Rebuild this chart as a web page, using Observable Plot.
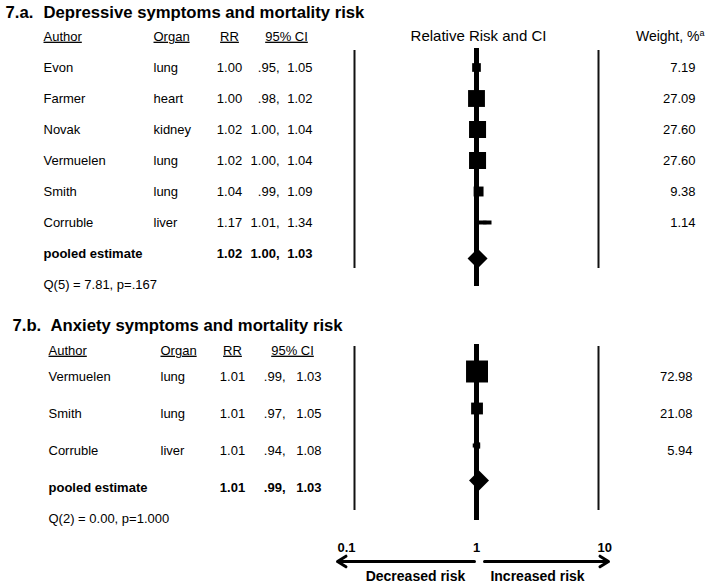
<!DOCTYPE html>
<html><head><meta charset="utf-8">
<script src="https://cdn.jsdelivr.net/npm/d3@7"></script>
<script src="https://cdn.jsdelivr.net/npm/@observablehq/plot@0.6"></script>
<style>
html,body{margin:0;padding:0;background:#fff;}
#chart svg{display:block;}
</style></head>
<body><div id="chart"></div>
<script>
// ---------- data ----------
const axisTicks = [0.1, 1, 10];
const headers = ["Author", "Organ", "RR", "95% CI"];
const forestHeader = "Relative Risk and CI";
const weightHeader = ["Weight, %", "a"];
const pooledLabel = "pooled estimate";

const titleA = ["7.a.", "Depressive symptoms and mortality risk"];
const authorsA = ["Evon", "Farmer", "Novak", "Vermuelen", "Smith", "Corruble"];
const organsA = ["lung", "heart", "kidney", "lung", "lung", "liver"];
const rrA = [1.00, 1.00, 1.02, 1.02, 1.04, 1.17];
const loA = [0.95, 0.98, 1.00, 1.00, 0.99, 1.01];
const hiA = [1.05, 1.02, 1.04, 1.04, 1.09, 1.34];
const weightA = [7.19, 27.09, 27.60, 27.60, 9.38, 1.14];
const pooledA = [1.02, 1.00, 1.03];
const statA = "Q(5) = 7.81, p=.167";

const titleB = ["7.b.", "Anxiety symptoms and mortality risk"];
const authorsB = ["Vermuelen", "Smith", "Corruble"];
const organsB = ["lung", "lung", "liver"];
const rrB = [1.01, 1.01, 1.01];
const loB = [0.99, 0.97, 0.94];
const hiB = [1.03, 1.05, 1.08];
const weightB = [72.98, 21.08, 5.94];
const pooledB = [1.01, 0.99, 1.03];
const statB = "Q(2) = 0.00, p=1.000";

const riskLabels = ["Decreased risk", "Increased risk"];

// ---------- helpers ----------
const FONT = "'Liberation Sans', Arial, Helvetica, sans-serif";
const X0 = 354;          // left edge of forest frame (px)
const col = px => px - X0;
const fmt = v => v.toFixed(2).replace(/^0\./, ".");
const T = (data, opts) => Plot.text(data, {fontSize: 13, fill: "#000", textAnchor: "start", lineAnchor: "middle", ...opts});

function tableMarks(rows, pooled, c) {
  const f = {frameAnchor: "left"};
  return [
    T(rows, {...f, y: "author", text: "author", dx: col(c.author)}),
    T(rows, {...f, y: "author", text: "organ", dx: col(c.organ)}),
    T(rows, {...f, y: "author", text: d => fmt(d.rr), dx: col(c.rr), textAnchor: "middle"}),
    T(rows, {...f, y: "author", text: d => fmt(d.lo) + ",", dx: col(c.lo), textAnchor: "end"}),
    T(rows, {...f, y: "author", text: d => fmt(d.hi), dx: col(c.hi), textAnchor: "end"}),
    T(rows, {...f, y: "author", text: d => d.weight.toFixed(2), dx: col(c.weight), textAnchor: "end"}),
    T([pooled], {...f, y: "author", text: "author", dx: col(c.author), fontWeight: "bold"}),
    T([pooled], {...f, y: "author", text: d => fmt(d.rr), dx: col(c.rr), textAnchor: "middle", fontWeight: "bold"}),
    T([pooled], {...f, y: "author", text: d => fmt(d.lo) + ",", dx: col(c.lo), textAnchor: "end", fontWeight: "bold"}),
    T([pooled], {...f, y: "author", text: d => fmt(d.hi), dx: col(c.hi), textAnchor: "end", fontWeight: "bold"})
  ];
}

function build(authors, organs, rr, lo, hi, weight) {
  return authors.map((a, i) => ({author: a, organ: organs[i], rr: rr[i], lo: lo[i], hi: hi[i], weight: weight[i]}));
}

// ---------- panel A ----------
const rowsA = build(authorsA, organsA, rrA, loA, hiA, weightA);
const pA = {author: pooledLabel, rr: pooledA[0], lo: pooledA[1], hi: pooledA[2]};
const colsA = {author: 43, organ: 153, rr: 229, lo: 279, hi: 312, weight: 695};
const hdrXA = [43, 153, 229, 286];
const hdrAnchor = ["start", "start", "middle", "middle"];
const yA = ["header", ...authorsA, pooledLabel, "stat"];

const plotA = Plot.plot({
  width: 708, height: 300,
  marginLeft: X0, marginRight: 110, marginTop: 32, marginBottom: 13,
  x: {type: "log", domain: [axisTicks[0], axisTicks[2]], axis: null},
  y: {type: "point", domain: yA, padding: 0, axis: null},
  r: {range: [0, 9.6]},
  style: {fontFamily: FONT, background: "#fff", overflow: "visible"},
  marks: [
    Plot.ruleX([axisTicks[0], axisTicks[2]], {y1: () => authorsA[0], y2: () => pooledLabel, insetTop: -17, insetBottom: -15, strokeWidth: 2, stroke: "#111"}),
    Plot.ruleX([axisTicks[1]], {y1: () => authorsA[0], y2: () => pooledLabel, insetTop: -19, insetBottom: -33, strokeWidth: 5, stroke: "#000"}),
    Plot.ruleY(rowsA, {y: "author", x1: "lo", x2: "hi", strokeWidth: 4, stroke: "#000"}),
    Plot.dot(rowsA, {x: "rr", y: "author", r: "weight", symbol: "square", fill: "#000", stroke: "none"}),
    Plot.dot([pA], {x: "rr", y: "author", r: 9, symbol: "diamond2", fill: "#000", stroke: "none", dy: 5}),
    T([titleA[0]], {frameAnchor: "top-left", text: d => d, dx: col(5), dy: -20, fontWeight: "bold", fontSize: 16.7}),
    T([titleA[1]], {frameAnchor: "top-left", text: d => d, dx: col(43), dy: -20, fontWeight: "bold", fontSize: 16.7}),
    ...headers.map((h, i) => T([h], {frameAnchor: "left", y: () => "header", text: d => d, dx: col(hdrXA[i]), textAnchor: hdrAnchor[i]})),
    T([forestHeader], {x: () => axisTicks[1], y: () => "header", text: d => d, textAnchor: "middle", fontSize: 15, dx: 2}),
    T([weightHeader[0]], {frameAnchor: "left", y: () => "header", text: d => d, dx: col(704), textAnchor: "end", fontSize: 14}),
    ...tableMarks(rowsA, pA, colsA),
    T([statA], {frameAnchor: "left", y: () => "stat", text: d => d, dx: col(43)})
  ]
});

// ---------- panel B ----------
const rowsB = build(authorsB, organsB, rrB, loB, hiB, weightB);
const pB = {author: pooledLabel, rr: pooledB[0], lo: pooledB[1], hi: pooledB[2]};
const colsB = {author: 48, organ: 160, rr: 232, lo: 285, hi: 321, weight: 692};
const hdrXB = [48, 160, 232, 292];
const yB = [...authorsB, pooledLabel];
const arrows = [{start: axisTicks[1], end: axisTicks[0], label: riskLabels[0]}, {start: axisTicks[1], end: axisTicks[2], label: riskLabels[1]}];

const plotB = Plot.plot({
  width: 708, height: 286,
  marginLeft: X0, marginRight: 110, marginTop: 75, marginBottom: 98,
  x: {type: "log", domain: [axisTicks[0], axisTicks[2]], axis: null},
  y: {type: "point", domain: yB, padding: 0, axis: null},
  r: {range: [0, 12.4]},
  style: {fontFamily: FONT, background: "#fff", overflow: "visible"},
  marks: [
    Plot.ruleX([axisTicks[0], axisTicks[2]], {y1: () => authorsB[0], y2: () => pooledLabel, insetTop: -30, insetBottom: -23, strokeWidth: 2, stroke: "#111"}),
    Plot.ruleX([axisTicks[1]], {y1: () => authorsB[0], y2: () => pooledLabel, insetTop: -32, insetBottom: -33, strokeWidth: 5, stroke: "#000"}),
    Plot.ruleY(rowsB, {y: "author", x1: "lo", x2: "hi", strokeWidth: 4, stroke: "#000", dy: -5}),
    Plot.dot(rowsB, {x: "rr", y: "author", r: "weight", symbol: "square", fill: "#000", stroke: "none", dy: -5}),
    Plot.dot([pB], {x: "rr", y: "author", r: 9, symbol: "diamond2", fill: "#000", stroke: "none", dy: -7, dx: 2}),
    T([titleB[0]], {frameAnchor: "top-left", text: d => d, dx: col(12), dy: -50, fontWeight: "bold", fontSize: 16.7}),
    T([titleB[1]], {frameAnchor: "top-left", text: d => d, dx: col(50), dy: -50, fontWeight: "bold", fontSize: 16.7}),
    ...headers.map((h, i) => T([h], {frameAnchor: "top-left", text: d => d, dx: col(hdrXB[i]), dy: -25, textAnchor: hdrAnchor[i]})),
    ...tableMarks(rowsB, pB, colsB),
    T([statB], {frameAnchor: "bottom-left", text: d => d, dx: col(48), dy: 30}),
    // bottom axis
    T([axisTicks[0]], {x: d => d, frameAnchor: "bottom", text: d => String(d), textAnchor: "end", dx: 1, dy: 59, fontWeight: "bold"}),
    T([axisTicks[1]], {x: d => d, frameAnchor: "bottom", text: d => String(d), textAnchor: "middle", dy: 59, fontWeight: "bold"}),
    T([axisTicks[2]], {x: d => d, frameAnchor: "bottom", text: d => String(d), textAnchor: "start", dx: -1, dy: 59, fontWeight: "bold"}),
    Plot.arrow([arrows[0]], {x1: "start", x2: "end", y1: () => pooledLabel, y2: () => pooledLabel, dy: 74, insetStart: 2, insetEnd: -17, strokeWidth: 3, stroke: "#000", headLength: 5, headAngle: 64}),
    Plot.arrow([arrows[1]], {x1: "start", x2: "end", y1: () => pooledLabel, y2: () => pooledLabel, dy: 74, insetStart: 8, insetEnd: -10, strokeWidth: 3, stroke: "#000", headLength: 5, headAngle: 64}),
    T(arrows, {x: d => Math.sqrt(d.start * d.end), frameAnchor: "bottom", text: "label", textAnchor: "middle", dy: 88, fontWeight: "bold", fontSize: 14})
  ]
});

// underline column headers, superscript on weight header
for (const svg of [plotA, plotB]) {
  d3.select(svg).selectAll("text").filter(function() { return headers.includes(this.textContent); })
    .style("text-decoration", "underline");
}
d3.select(plotA).selectAll("text").filter(function() { return this.textContent === weightHeader[0]; })
  .append("tspan").attr("font-size", 9).attr("dy", -5).text(weightHeader[1]);

document.getElementById("chart").append(plotA, plotB);
</script>
</body></html>
